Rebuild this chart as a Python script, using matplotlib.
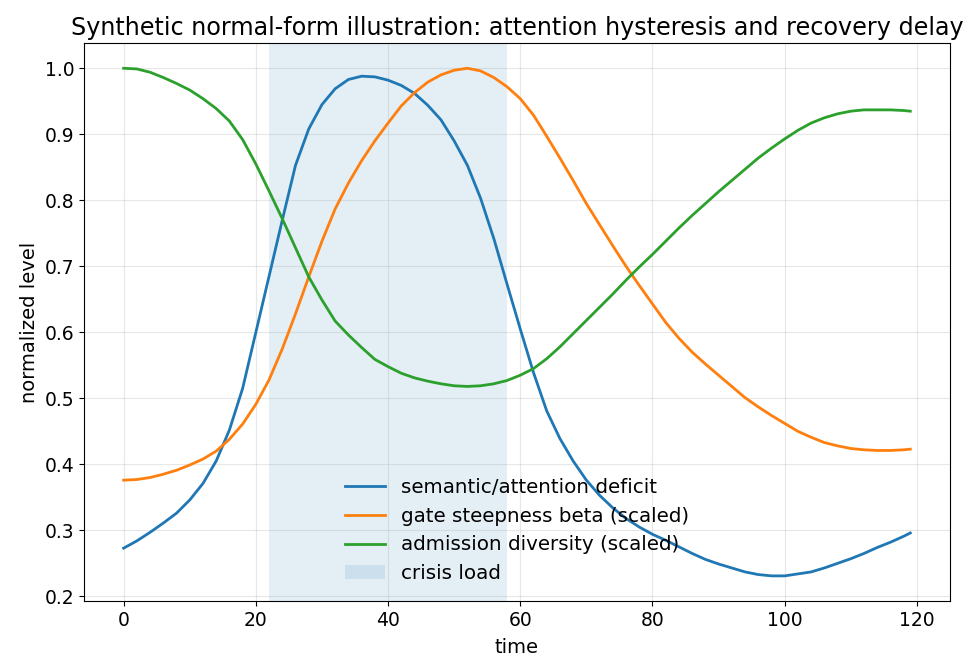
import matplotlib
matplotlib.use("Agg")
import matplotlib.pyplot as plt

# values every 2 time steps (t = 0..119)
t = list(range(0, 120, 2)) + [119]

deficit = [0.273, 0.284, 0.297, 0.311, 0.326, 0.346, 0.371, 0.405, 0.452, 0.515,
           0.600, 0.685, 0.770, 0.853, 0.908, 0.945, 0.969, 0.983, 0.988, 0.987,
           0.982, 0.974, 0.962, 0.944, 0.922, 0.890, 0.853, 0.803, 0.742, 0.673,
           0.605, 0.539, 0.481, 0.439, 0.405, 0.376, 0.353, 0.334, 0.318, 0.305,
           0.294, 0.285, 0.275, 0.265, 0.256, 0.249, 0.243, 0.237, 0.233, 0.231,
           0.231, 0.234, 0.237, 0.243, 0.250, 0.257, 0.265, 0.274, 0.282, 0.291,
           0.296]

beta = [0.376, 0.377, 0.380, 0.385, 0.391, 0.399, 0.408, 0.420, 0.438, 0.461,
        0.491, 0.528, 0.575, 0.628, 0.684, 0.738, 0.787, 0.826, 0.860, 0.890,
        0.917, 0.943, 0.963, 0.979, 0.990, 0.997, 1.000, 0.996, 0.986, 0.972,
        0.954, 0.929, 0.897, 0.864, 0.830, 0.795, 0.763, 0.731, 0.700, 0.671,
        0.643, 0.615, 0.591, 0.570, 0.552, 0.535, 0.518, 0.501, 0.487, 0.474,
        0.462, 0.450, 0.441, 0.433, 0.428, 0.424, 0.422, 0.421, 0.421, 0.422,
        0.423]

diversity = [1.000, 0.999, 0.994, 0.986, 0.977, 0.967, 0.954, 0.939, 0.920, 0.892,
             0.855, 0.814, 0.772, 0.728, 0.684, 0.649, 0.617, 0.596, 0.577, 0.559,
             0.548, 0.538, 0.531, 0.526, 0.522, 0.519, 0.518, 0.519, 0.522, 0.527,
             0.535, 0.545, 0.560, 0.578, 0.598, 0.618, 0.638, 0.658, 0.679, 0.699,
             0.718, 0.738, 0.758, 0.777, 0.795, 0.813, 0.830, 0.847, 0.864, 0.879,
             0.893, 0.906, 0.917, 0.925, 0.931, 0.935, 0.937, 0.937, 0.937, 0.936,
             0.935]

crisis = (22, 58)

plt.rcParams["xtick.labelsize"] = 13.5
plt.rcParams["ytick.labelsize"] = 13.5

fig = plt.figure(figsize=(9.69, 6.6), dpi=100)
ax = fig.add_axes([0.087, 0.089, 0.893, 0.846])
ax.axvspan(crisis[0], crisis[1], alpha=0.12, label="crisis load")
ax.plot(t, deficit, lw=2, label="semantic/attention deficit")
ax.plot(t, beta, lw=2, label="gate steepness beta (scaled)")
ax.plot(t, diversity, lw=2, label="admission diversity (scaled)")
ax.set_xlabel("time", fontsize=14, labelpad=6)
ax.set_ylabel("normalized level", fontsize=14)
ax.set_title("Synthetic normal-form illustration: attention hysteresis and recovery delay",
             fontsize=17.2)
ax.grid(alpha=0.3)

h, l = ax.get_legend_handles_labels()
ax.legend(h[1:] + h[:1], l[1:] + l[:1], loc="lower center", frameon=False, fontsize=14.3)

fig.savefig("out.png", dpi=100)
